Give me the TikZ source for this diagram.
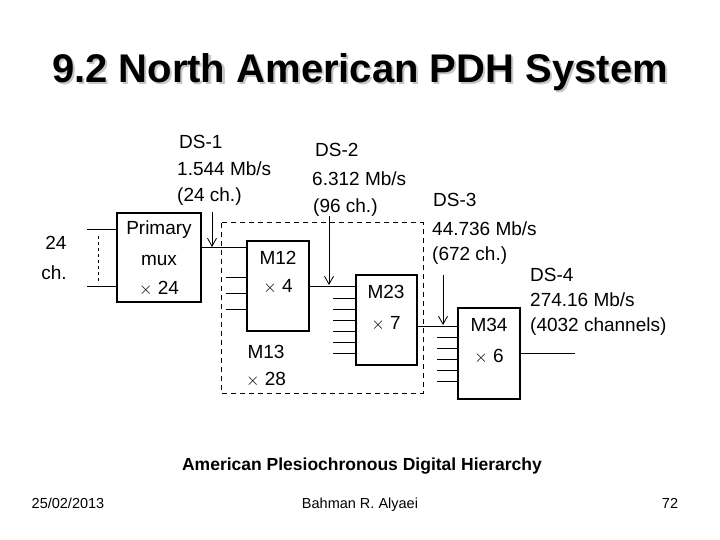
\documentclass[tikz,border=0pt]{standalone}
\usepackage{fontspec}
\setmainfont{Liberation Sans}
\usetikzlibrary{arrows.meta}
\begin{document}
\begin{tikzpicture}[x=1pt,y=-1pt,
  box/.style={draw,line width=1.2pt},
  ln/.style={line width=1pt},
  lbl/.style={font=\fontsize{19}{19}\selectfont,inner sep=0pt,anchor=west},
  cl/.style={font=\fontsize{19}{19}\selectfont,inner sep=0pt},
  dsarrow/.style={line width=0.8pt,-{Straight Barb[length=8pt,width=9pt]}},
  foot/.style={font=\fontsize{14.5}{14.5}\selectfont,inner sep=0pt,anchor=base}]
\useasboundingbox (0,0) rectangle (720,540);
\node[font=\bfseries\fontsize{40}{40}\selectfont,text=gray!45] at (362,74) {9.2 North American PDH System};
\node[font=\bfseries\fontsize{40}{40}\selectfont] (title) at (360,72) {9.2 North American PDH System};
% dashed M13 box
\draw[line width=1pt,dash pattern=on 5pt off 4pt] (221,223) rectangle (423,393);
\node[cl] (m13a) at (266,352) {M13};
\node[cl] (m13b) at (266,380) {$\times$ 28};
% primary
\draw[box] (117,213) rectangle (201,302);
\node[cl] (p1) at (159,230) {Primary};
\node[cl] (p2) at (159,260) {mux};
\node[cl] (p3) at (159,289) {$\times$ 24};
\coordinate (pin1) at (117,230); \coordinate (pin2) at (117,286);
\coordinate (pin1e) at (87,230); \coordinate (pin2e) at (87,286);
\draw[ln] (pin1e) -- (pin1); \draw[ln] (pin2e) -- (pin2);
\draw[dashed,line width=1pt] (98,236) -- (98,282);
\node[cl] (c24) at (56,243) {24};
\node[cl] (cch) at (54,273) {ch.};
% M12
\draw[box] (247,241) rectangle (309,331);
\node[cl] (m12) at (278,258) {M12};
\node[cl] (m12x) at (278,287) {$\times$ 4};
\draw[ln] (201,247) -- (247,247);
\foreach \y in {277,293,309} \draw[ln] (226,\y) -- (247,\y);
% M23
\draw[box] (356,275) rectangle (417,365);
\node[cl] (m23) at (386,292) {M23};
\node[cl] (m23x) at (386,324) {$\times$ 7};
\draw[ln] (309,286) -- (356,286);
\foreach \y in {298,309,320,331,342,353} \draw[ln] (333,\y) -- (356,\y);
% M34
\draw[box] (458,308) rectangle (520,399);
\node[cl] (m34) at (489,325) {M34};
\node[cl] (m34x) at (489,357) {$\times$ 6};
\draw[ln] (417,326) -- (458,326);
\foreach \y in {337,348,359,370,381} \draw[ln] (437,\y) -- (458,\y);
\draw[ln] (520,353) -- (575,353);
% arrows
\coordinate (a1s) at (212,212); \coordinate (a1e) at (212,247);
\coordinate (a2s) at (329,216); \coordinate (a2e) at (329,285);
\coordinate (a3s) at (443,275); \coordinate (a3e) at (443,325);
\draw[dsarrow] (a1s) -- (a1e);
\draw[dsarrow] (a2s) -- (a2e);
\draw[dsarrow] (a3s) -- (a3e);
% labels
\node[lbl] (d1a) at (179,142) {DS-1};
\node[lbl] (d1b) at (177,169) {1.544 Mb/s};
\node[lbl] (d1c) at (177,197) {(24 ch.)};
\node[lbl] (d2a) at (315,150) {DS-2};
\node[lbl] (d2b) at (312,179) {6.312 Mb/s};
\node[lbl] (d2c) at (313,208) {(96 ch.)};
\node[lbl] (d3a) at (433,200) {DS-3};
\node[lbl] (d3b) at (432,229) {44.736 Mb/s};
\node[lbl] (d3c) at (432,256) {(672 ch.)};
\node[lbl] (d4a) at (530,275) {DS-4};
\node[lbl] (d4b) at (530,300) {274.16 Mb/s};
\node[lbl] (d4c) at (530,327) {(4032 channels)};
% caption and footer
\node[font=\bfseries\fontsize{17.5}{17.5}\selectfont] (cap) at (362,466) {American Plesiochronous Digital Hierarchy};
\node[foot] (f1) at (68,508) {25/02/2013};
\node[foot] (f2) at (360,508) {Bahman R. Alyaei};
\node[foot] (f3) at (670,508) {72};
\end{tikzpicture}
\end{document}
